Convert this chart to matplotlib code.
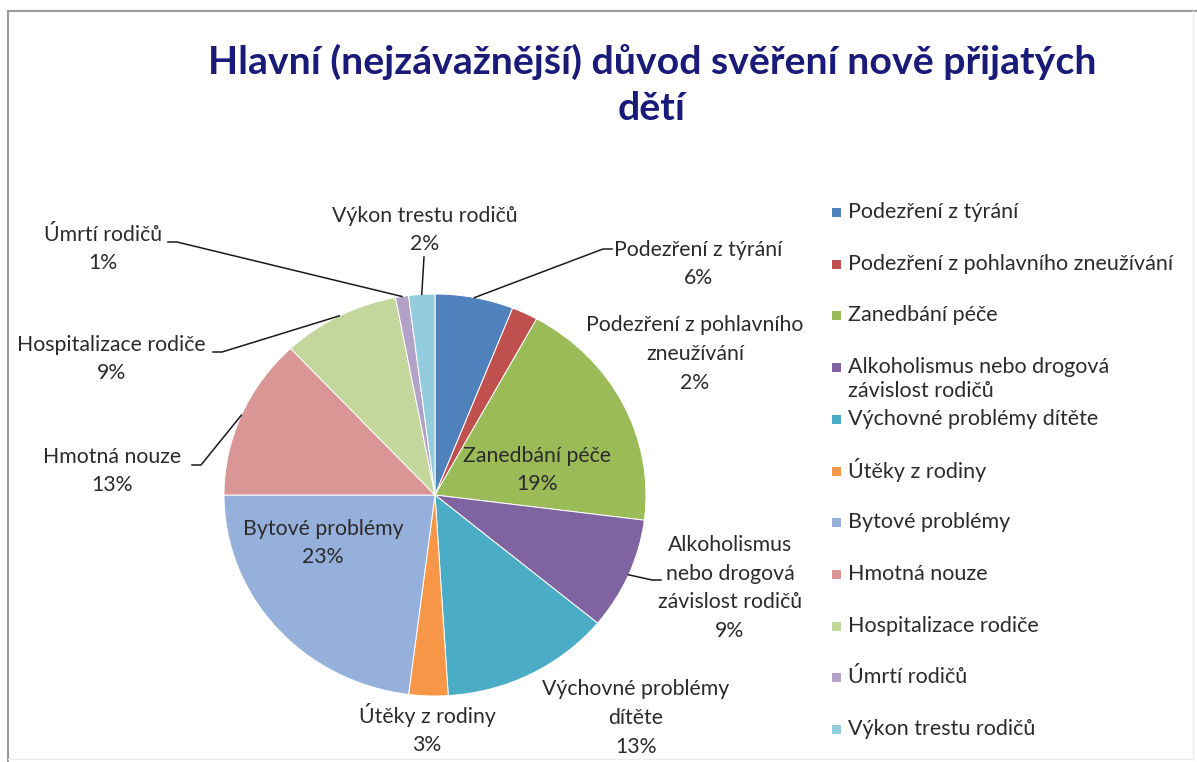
import numpy as np
import matplotlib
matplotlib.use("Agg")
import matplotlib.pyplot as plt
from matplotlib.patches import Rectangle

W, H = 1197, 762

title_lines = ["Hlavní (nejzávažnější) důvod svěření nově přijatých", "dětí"]

categories = ["Podezření z týrání", "Podezření z pohlavního zneužívání", "Zanedbání péče",
              "Alkoholismus nebo drogová závislost rodičů", "Výchovné problémy dítěte",
              "Útěky z rodiny", "Bytové problémy", "Hmotná nouze", "Hospitalizace rodiče",
              "Úmrtí rodičů", "Výkon trestu rodičů"]
legend_labels = ["Podezření z týrání", "Podezření z pohlavního zneužívání", "Zanedbání péče",
                 "Alkoholismus nebo drogová\nzávislost rodičů", "Výchovné problémy dítěte",
                 "Útěky z rodiny", "Bytové problémy", "Hmotná nouze", "Hospitalizace rodiče",
                 "Úmrtí rodičů", "Výkon trestu rodičů"]
slice_labels = ["Podezření z týrání", "Podezření z pohlavního\nzneužívání", "Zanedbání péče",
                "Alkoholismus\nnebo drogová\nzávislost rodičů", "Výchovné problémy\ndítěte",
                "Útěky z rodiny", "Bytové problémy", "Hmotná nouze", "Hospitalizace rodiče",
                "Úmrtí rodičů", "Výkon trestu rodičů"]
values = [6, 2, 19, 9, 13, 3, 23, 13, 9, 1, 2]
colors = ["#4F81BD", "#C0504D", "#9BBB59", "#8064A2", "#4BACC6", "#F79646",
          "#95B0DB", "#D99694", "#C3D69B", "#B3A2C7", "#93CDDD"]

# label layout (pixel coords, top-down): block center
label_pos = [(698, 264), (695, 354), (537, 470), (730, 588), (636, 718), (427, 729),
             (323, 543), (112, 471), (111, 359), (103, 249), (425, 230)]
# leader lines: (attach point, elbow point) or None
leader = [((612, 249), (603, 249)), None, None, ((661, 580), (652, 580)), None, None,
          None, ((192, 465), (201, 465)), ((213, 352), (222, 352)), ((168, 242), (177, 242)),
          ((424, 257), (424, 257))]

FAM = ["Lato", "DejaVu Sans"]
TXT = "#2b2b2b"

fig = plt.figure(figsize=(W / 100, H / 100), dpi=100)
fig.patch.set_facecolor("white")

# pie (slightly wider than tall, as in the reference) -- drawn first, below the text layer
cx, cy, rx, ry = 435, 495, 211, 201
ax_pie = fig.add_axes([(cx - rx) / W, (H - cy - ry) / H, 2 * rx / W, 2 * ry / H])
wedges, _ = ax_pie.pie(values, colors=colors, startangle=90, counterclock=False,
                       radius=1, wedgeprops=dict(edgecolor="white", linewidth=0.7))
ax_pie.set_aspect("auto")
ax_pie.set_xlim(-1, 1)
ax_pie.set_ylim(-1, 1)
ax_pie.axis("off")
for w in wedges:
    w.set_clip_on(False)

# overlay layer in pixel coordinates
ax = fig.add_axes([0, 0, 1, 1])
ax.set_xlim(0, W)
ax.set_ylim(H, 0)
ax.axis("off")
ax.patch.set_alpha(0)

renderer = fig.canvas.get_renderer()


def fit(text, target, weight="normal"):
    t = ax.text(0, 0, text, fontsize=10, family=FAM, weight=weight)
    w = t.get_window_extent(renderer).width
    t.remove()
    return 10 * target / w


fs_title = fit(title_lines[0], 890, "bold")
fs_lab = fit("Hospitalizace rodiče", 189)
fs_leg = fit("Podezření z pohlavního zneužívání", 324)

# border
ax.plot([8, W], [10.5, 10.5], color="#9a9a9a", lw=1.5)
ax.plot([8, 8], [10.5, H], color="#9a9a9a", lw=1.5)
ax.plot([W - 4, W - 4], [10.5, H - 3], color="#ececec", lw=1)
ax.plot([8, W - 4], [H - 3, H - 3], color="#ececec", lw=1)

# title
ax.text(652, 62, title_lines[0], ha="center", va="center", fontsize=fs_title,
        weight="bold", color="#1a1a78", family=FAM)
ax.text(652, 109, title_lines[1], ha="center", va="center", fontsize=fs_title,
        weight="bold", color="#1a1a78", family=FAM)

# labels and leader lines
for i, (lab, v) in enumerate(zip(slice_labels, values)):
    lx, ly = label_pos[i]
    ax.text(lx, ly, f"{lab}\n{v}%", ha="center", va="center", fontsize=fs_lab,
            color=TXT, family=FAM, linespacing=1.55)
    if leader[i] is not None:
        w = wedges[i]
        th = np.deg2rad((w.theta1 + w.theta2) / 2)
        px, py = ax_pie.transData.transform((np.cos(th), np.sin(th)))
        ex, ey = px, H - py
        (ax0, ay0), (bx, by) = leader[i]
        ax.plot([ax0, bx, ex], [ay0, by, ey], color="#1a1a1a", lw=1.1)

# legend
for i, (lab, c) in enumerate(zip(legend_labels, colors)):
    y = 212 + i * 51.7
    ax.add_patch(Rectangle((832, y - 4), 9, 9, facecolor=c, edgecolor="none"))
    for j, line in enumerate(lab.split("\n")):
        ax.text(848, y + j * 24, line, ha="left", va="center", fontsize=fs_leg,
                color=TXT, family=FAM)

fig.savefig("out.png", dpi=100, facecolor="white")
